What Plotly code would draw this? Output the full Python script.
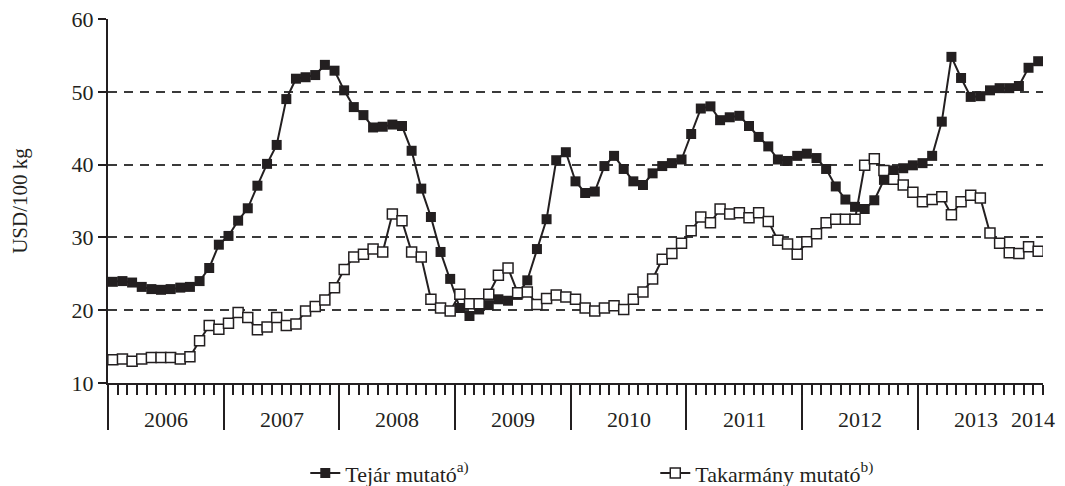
import plotly.graph_objects as go

# Monthly series, January 2006 - January 2014
months = [f"{y}-{m:02d}" for y in range(2006, 2014) for m in range(1, 13)] + ["2014-01"]

tejar = [
    23.9, 24.0, 23.8, 23.2, 22.9, 22.8, 22.9, 23.1, 23.2, 24.0, 25.8, 29.0,
    30.2, 32.3, 34.0, 37.1, 40.1, 42.7, 49.0, 51.8, 52.0, 52.3, 53.7, 52.9,
    50.2, 47.9, 46.8, 45.1, 45.2, 45.5, 45.3, 41.9, 36.7, 32.8, 28.0, 24.3,
    20.3, 19.2, 20.1, 20.7, 21.5, 21.3, 22.1, 24.1, 28.4, 32.5, 40.6, 41.7,
    37.7, 36.1, 36.3, 39.8, 41.2, 39.4, 37.7, 37.2, 38.8, 39.8, 40.2, 40.7,
    44.2, 47.7, 48.0, 46.1, 46.5, 46.7, 45.3, 43.8, 42.5, 40.7, 40.5, 41.2,
    41.5, 40.9, 39.4, 37.0, 35.2, 34.2, 33.9, 35.1, 37.9, 39.2, 39.5, 39.9,
    40.2, 41.2, 45.9, 54.8, 51.9, 49.3, 49.4, 50.2, 50.5, 50.5, 50.8, 53.3,
    54.2,
]

takarmany = [
    13.2, 13.3, 13.0, 13.3, 13.5, 13.5, 13.5, 13.3, 13.6, 15.8, 17.9, 17.4,
    18.2, 19.7, 19.0, 17.3, 17.7, 19.0, 17.9, 18.1, 19.9, 20.5, 21.4, 23.1,
    25.6, 27.3, 27.7, 28.4, 28.0, 33.2, 32.3, 28.0, 27.3, 21.5, 20.3, 19.9,
    22.2, 20.9, 20.9, 22.2, 24.8, 25.8, 22.4, 22.5, 20.8, 21.6, 22.1, 21.8,
    21.5, 20.3, 19.9, 20.3, 20.6, 20.1, 21.5, 22.5, 24.3, 27.0, 27.8, 29.2,
    30.9, 32.8, 32.0, 33.9, 33.2, 33.4, 32.7, 33.4, 32.2, 29.6, 29.1, 27.7,
    29.4, 30.5, 32.0, 32.5, 32.5, 32.5, 39.9, 40.8, 39.2, 38.0, 37.2, 36.2,
    34.9, 35.2, 35.6, 33.1, 34.9, 35.8, 35.4, 30.6, 29.2, 27.9, 27.8, 28.7,
    28.1,
]

years = ["2006", "2007", "2008", "2009", "2010", "2011", "2012", "2013", "2014"]
y_ticks = [10, 20, 30, 40, 50, 60]

INK = "#231f20"
FONT = "Liberation Serif"
FS = 22

n = len(months)
xs = list(range(n))
month_years = [m[:4] for m in months]

# boundaries between month slots, and the slot where each year begins
month_bounds = [i - 0.5 for i in range(n + 1)]
year_start = {}
for i, yr in enumerate(month_years):
    year_start.setdefault(yr, i)
year_bounds = [year_start[y] - 0.5 for y in years[:-1]]
last_bounds = [year_start[years[-1]] - 0.5, n - 0.5]

fig = go.Figure()
fig.add_trace(go.Scatter(
    x=xs, y=tejar, mode="lines+markers", name="Tejár mutató<sup>a)</sup>",
    line=dict(color=INK, width=2),
    marker=dict(symbol="square", size=10, color=INK, line=dict(width=0)),
))
fig.add_trace(go.Scatter(
    x=xs, y=takarmany, mode="lines+markers", name="Takarmány mutató<sup>b)</sup>",
    line=dict(color=INK, width=2),
    marker=dict(symbol="square", size=10, color="white", line=dict(color=INK, width=1.5)),
))

# year labels centred under each year's months
for yr in years[:-1]:
    idx = [i for i, y in enumerate(month_years) if y == yr]
    fig.add_annotation(x=(idx[0] + idx[-1]) / 2, y=-0.1, xref="x", yref="paper",
                       text=yr, showarrow=False, yanchor="middle",
                       font=dict(family=FONT, size=FS, color=INK))
fig.add_annotation(x=last_bounds[0], y=-0.1, xref="x", yref="paper",
                   text=years[-1], showarrow=False, yanchor="middle",
                   font=dict(family=FONT, size=FS, color=INK))

fig.update_layout(
    width=1065, height=486,
    margin=dict(l=108, r=22, t=19, b=103, autoexpand=False),
    paper_bgcolor="white", plot_bgcolor="white",
    font=dict(family=FONT, size=FS, color=INK),
    showlegend=True,
    legend=dict(orientation="h", x=0.211, xanchor="left", y=-0.19, yanchor="top",
                entrywidth=305, font=dict(family=FONT, size=FS, color=INK),
                bgcolor="rgba(0,0,0,0)"),
    xaxis=dict(
        range=[-0.5, n - 0.5], showgrid=False, zeroline=False,
        showline=True, linecolor=INK, linewidth=2,
        tickmode="array", tickvals=year_bounds, ticks="outside",
        ticklen=45, tickwidth=2, tickcolor=INK, showticklabels=False,
        minor=dict(tickmode="array", tickvals=month_bounds, ticks="outside",
                   ticklen=10, tickwidth=1.5, tickcolor=INK),
    ),
    xaxis2=dict(
        overlaying="x", anchor="y", side="bottom", range=[-0.5, n - 0.5],
        showgrid=False, zeroline=False, showline=False,
        tickmode="array", tickvals=last_bounds, ticks="outside",
        ticklen=24, tickwidth=2, tickcolor=INK, showticklabels=False,
    ),
    yaxis=dict(
        range=[10, 60], tickmode="array", tickvals=y_ticks,
        showline=True, linecolor=INK, linewidth=2,
        ticks="outside", ticklen=8, tickwidth=2, tickcolor=INK,
        showgrid=True, gridcolor="#3a3a3a", gridwidth=1.5, griddash="9px,7px",
        zeroline=False,
        title=dict(text="USD/100 kg", standoff=38, font=dict(family=FONT, size=FS - 1)),
    ),
)

fig.write_html("out.html")
